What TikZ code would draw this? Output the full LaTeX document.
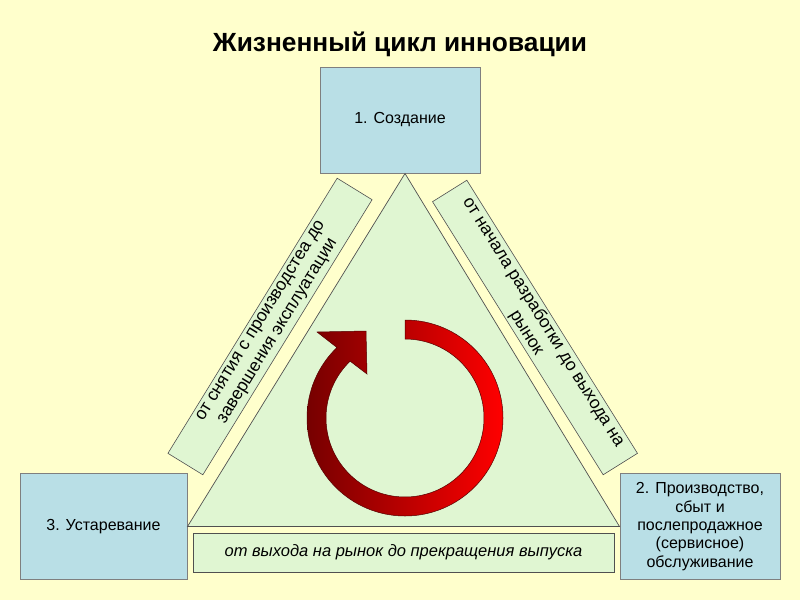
\documentclass[tikz,border=0pt]{standalone}
\usepackage{fontspec}
\setmainfont{Liberation Sans}
\usetikzlibrary{positioning, calc}
\definecolor{amarillofondo}{HTML}{FFFFCC}
\definecolor{azulclaro}{HTML}{B9DFE6}
\definecolor{verdeclaro}{HTML}{E0F6D2}
\definecolor{grisborde}{HTML}{7F7F7F}
\definecolor{grisoscuro}{HTML}{505050}
\definecolor{rojooscuro}{HTML}{760000}
\definecolor{rojovivo}{HTML}{FF0000}
\colorlet{colFondo}{amarillofondo}
\colorlet{colEtapa}{azulclaro}
\colorlet{colPeriodo}{verdeclaro}
\colorlet{colGris}{grisborde}
\colorlet{colLinea}{grisoscuro}
\tikzset{
  cajaBase/.style={
    draw=colGris, line width=1pt,
    align=center, text=black, inner sep=2pt,
    font=\fontsize{16}{18.3}\selectfont
  },
  cajaEtapa/.style={cajaBase, fill=colEtapa, minimum width=160pt, minimum height=106pt},
  cajaPeriodo/.style={cajaBase, fill=colPeriodo, draw=colLinea, line width=0.6pt,
    font=\fontsize{17.5}{20}\selectfont},
  triangulo/.style={draw=colLinea, line width=0.7pt, fill=colPeriodo},
  flechaCiclo/.style={draw=rojooscuro!70!black, line width=0.5pt,
    left color=rojooscuro, right color=rojovivo},
  titulo/.style={font=\bfseries\fontsize{26.3}{30}\selectfont},
}
\begin{document}
\begin{tikzpicture}[x=1pt, y=-1pt]
    \useasboundingbox[fill=colFondo] (0,0) rectangle (800,600);
    \node[titulo] (titulo) at (400,44) {Жизненный цикл инновации};

    % etapas
    \node[cajaEtapa] (creacion) at (400,120) {1. Создание};
    \node[cajaEtapa] (produccion) at (700,526.5) {2. Производство,\\сбыт и\\послепродажное\\(сервисное)\\обслуживание};
    \node[cajaEtapa, minimum width=167pt] (obsolescencia) at (103.5,526.5) {3. Устаревание};

    \coordinate (cima) at ($(creacion.south)+(5,0)$);
    \coordinate (baseIzq) at (obsolescencia.east);
    \coordinate (baseDer) at (produccion.west);
    \filldraw[triangulo] (cima) -- (baseDer) -- (baseIzq) -- cycle;

    % periodos
    \node[cajaPeriodo, minimum width=323pt, minimum height=41pt, rotate=58.4] (periodoIzq) at (270,326.5)
      {от снятия с производстеа до\\завершения эксплуатации};
    \node[cajaPeriodo, minimum width=322pt, minimum height=40pt, rotate=-58] (periodoDer) at (535,327.5)
      {от начала разработки до выхода на\\рынок};
    \node[cajaPeriodo, minimum width=421pt, minimum height=39pt, font=\itshape\fontsize{16.5}{17}\selectfont,
      below=6pt of $(baseIzq)!0.5!(baseDer)$] (periodoAbajo) {от выхода на рынок до прекращения выпуска};

    % flecha circular
    \begin{scope}[shift={(405,418)}, x=1pt, y=1pt]
      \path[flechaCiclo] (90:98) arc[start angle=90, end angle=-226, radius=98]
        -- (-88,86) -- (-39,87) -- (-38,44) -- (-226:79)
        arc[start angle=-226, end angle=90, radius=79] -- cycle;
    \end{scope}
  \end{tikzpicture}
\end{document}
